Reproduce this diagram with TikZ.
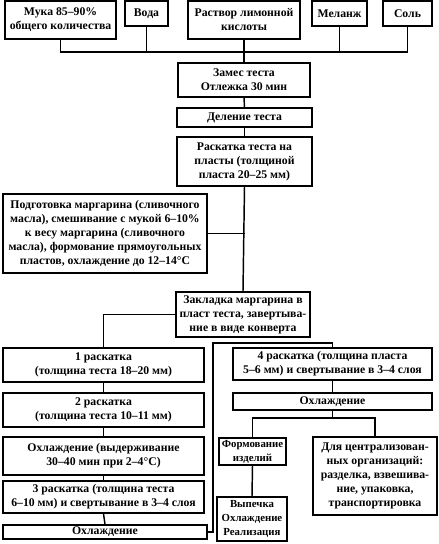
\documentclass[tikz,border=0pt]{standalone}
\usepackage{fontspec}
\setmainfont{Liberation Serif}
\begin{document}
\begin{tikzpicture}[x=0.75pt,y=-0.75pt,line width=1.1pt,
  box/.style={draw,inner sep=0pt,align=center,font=\fontsize{8.8}{10.5}\selectfont\bfseries},
  smallbox/.style={box,font=\fontsize{8.1}{10.5}\selectfont\bfseries},
  conn/.style={line width=1.1pt}]
\newcommand\bx[7][box]{%
  \pgfmathsetmacro\cx{(#3+#5)/2}\pgfmathsetmacro\cy{(#4+#6)/2}%
  \pgfmathsetmacro\ww{(#5-#3)*0.75}\pgfmathsetmacro\hh{(#6-#4)*0.75}%
  \node[#1,minimum width=\ww pt,minimum height=\hh pt] (#2) at (\cx,\cy) {#7};}
\useasboundingbox (0,0) rectangle (439,544);
% top row
\bx{muka}{5}{1}{116}{39}{Мука 85--90\%\\общего количества}
\bx{voda}{125}{1}{168}{26}{Вода}
\bx{rastvor}{188}{1}{300}{39}{Раствор лимонной\\кислоты}
\bx{melanzh}{312}{1}{367}{26}{Меланж}
\bx{sol}{383}{1}{432}{26}{Соль}
\bx{zames}{178}{63}{310}{97}{Замес теста\\Отлежка 30 мин}
\bx{delenie}{177}{108}{312}{127}{Деление теста}
\bx{raskatka}{177}{137}{312}{186}{Раскатка теста на\\пласты (толщиной\\пласта 20--25 мм)}
\bx{podg}{3}{194}{207}{273}{Подготовка маргарина (сливочного\\масла), смешивание с мукой 6--10\%\\к весу маргарина (сливочного\\масла), формование прямоугольных\\пластов, охлаждение до 12--14\textdegree C}
\bx{zakl}{176}{292}{310}{337}{Закладка маргарина в\\пласт теста, завертыва-\\ние в виде конверта}
% left column
\bx{r1}{3}{348}{204}{382}{1 раскатка\\(толщина теста 18--20 мм)}
\bx{r2}{3}{393}{204}{427}{2 раскатка\\(толщина теста 10--11 мм)}
\bx{ohl1}{3}{437}{204}{475}{Охлаждение (выдерживание\\30--40 мин при 2--4\textdegree C)}
\bx{r3}{3}{481}{204}{513}{3 раскатка (толщина теста\\6--10 мм) и свертывание в 3--4 слоя}
\bx{ohl2}{3}{525}{207}{539}{Охлаждение}
% right column
\bx{r4}{233}{348}{432}{380}{4 раскатка (толщина пласта\\5--6 мм) и свертывание в 3--4 слоя}
\bx{ohl3}{233}{393}{432}{410}{Охлаждение}
\bx[smallbox]{form}{219}{438}{286}{465}{Формование\\изделий}
\bx{dlya}{313}{437}{437}{515}{Для централизован-\\ных организаций:\\разделка, взвешива-\\ние, упаковка,\\транспортировка}
\bx[smallbox]{vyp}{217}{497}{287}{541}{Выпечка\\Охлаждение\\Реализация}
% connectors
\coordinate (jt) at (243,52);
\draw[conn] (muka.south) |- (sol.south |- jt) -- (sol.south);
\draw[conn] (voda.south) -- (voda.south |- jt);
\draw[conn] (melanzh.south) -- (melanzh.south |- jt);
\draw[conn] (rastvor.south) -- (zames.north);
\draw[conn] (zames.south) -- (delenie.north);
\draw[conn] (delenie.south) -- (raskatka.north);
\draw[conn] (raskatka.south) -- (zakl.north);
\draw[conn] (podg.east) -- (podg.east -| raskatka.south);
\draw[conn] (zakl.west) -| (r1.north);
\draw[conn] (r1.south) -- (r2.north);
\draw[conn] (r2.south) -- (ohl1.north);
\draw[conn] (ohl1.south) -- (r3.north);
\draw[conn] (r3.south) -- (ohl2.north);
\coordinate (lp) at (213,343);
\draw[conn] (ohl2.east) -| (lp) -| (r4.north);
\draw[conn] (r4.south) -- (ohl3.north);
\coordinate (jr) at (335,418);
\draw[conn] (ohl3.south) -- (ohl3.south |- jr);
\draw[conn] (form.north) |- (dlya.north |- jr) -- (dlya.north);
\draw[conn] (form.south) -- (vyp.north);
\end{tikzpicture}
\end{document}
